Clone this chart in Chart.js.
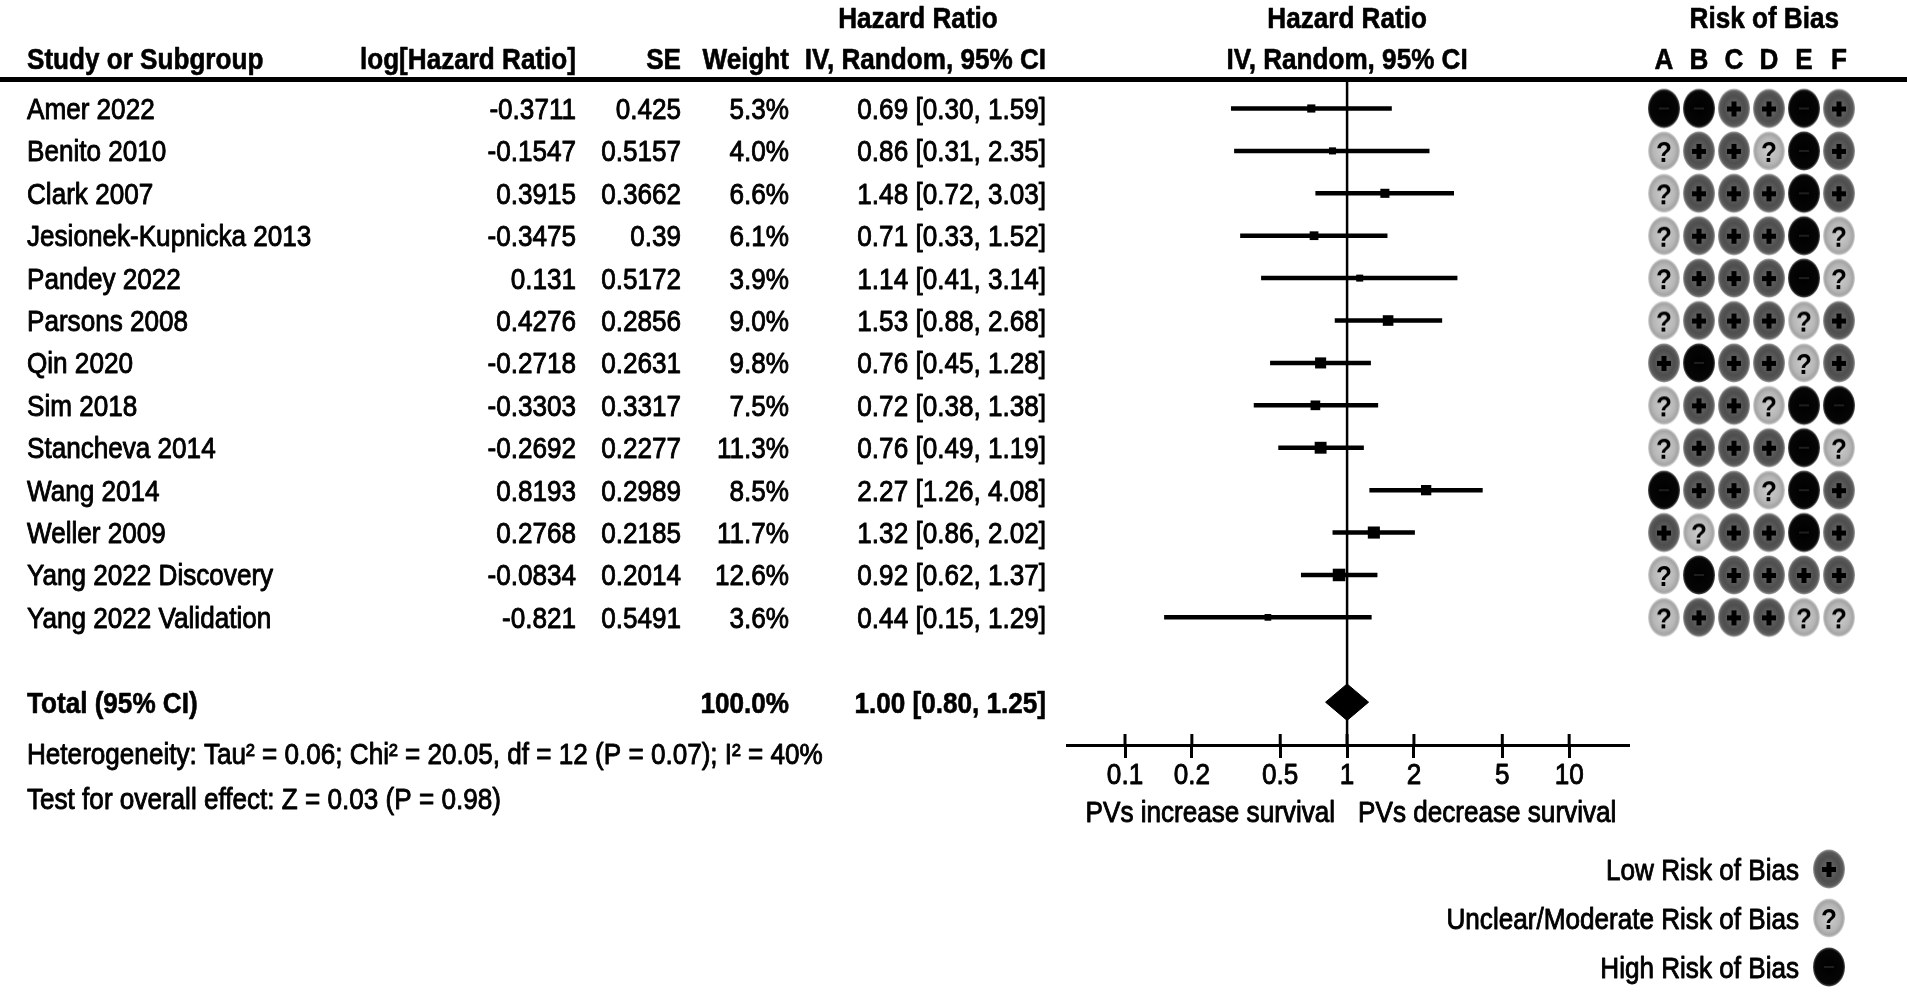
<!DOCTYPE html>
<html>
<head>
<meta charset="utf-8">
<title>Forest plot</title>
<script src="https://cdn.jsdelivr.net/npm/chart.js@4.4.0/dist/chart.umd.min.js"></script>
<style>
    html, body { margin: 0; padding: 0; background: #fff; }
    #wrap { position: relative; width: 1907px; height: 993px; overflow: hidden; }
    #wrap canvas { position: absolute; left: 0; top: 0; }
</style>
</head>
<body>
<div id="wrap">
    <canvas id="forest" width="1907" height="993"></canvas>
    <canvas id="rob" width="1907" height="993"></canvas>
</div>
<script>
// ---- data ----
const studies = ['Amer 2022', 'Benito 2010', 'Clark 2007', 'Jesionek-Kupnicka 2013', 'Pandey 2022', 'Parsons 2008',
    'Qin 2020', 'Sim 2018', 'Stancheva 2014', 'Wang 2014', 'Weller 2009', 'Yang 2022 Discovery', 'Yang 2022 Validation'];
const logHR = [-0.3711, -0.1547, 0.3915, -0.3475, 0.131, 0.4276, -0.2718, -0.3303, -0.2692, 0.8193, 0.2768, -0.0834, -0.821];
const se = [0.425, 0.5157, 0.3662, 0.39, 0.5172, 0.2856, 0.2631, 0.3317, 0.2277, 0.2989, 0.2185, 0.2014, 0.5491];
const weight = [5.3, 4.0, 6.6, 6.1, 3.9, 9.0, 9.8, 7.5, 11.3, 8.5, 11.7, 12.6, 3.6];
const hr = [0.69, 0.86, 1.48, 0.71, 1.14, 1.53, 0.76, 0.72, 0.76, 2.27, 1.32, 0.92, 0.44];
const ciLow = [0.30, 0.31, 0.72, 0.33, 0.41, 0.88, 0.45, 0.38, 0.49, 1.26, 0.86, 0.62, 0.15];
const ciHigh = [1.59, 2.35, 3.03, 1.52, 3.14, 2.68, 1.28, 1.38, 1.19, 4.08, 2.02, 1.37, 1.29];
const totalWeight = 100.0;
const totalHR = 1.00;
const totalLow = 0.80;
const totalHigh = 1.25;
const tickValues = [0.1, 0.2, 0.5, 1, 2, 5, 10];
const robColumns = ['A', 'B', 'C', 'D', 'E', 'F'];
// L = low, U = unclear/moderate, H = high
const rob = ['HHLLHL', 'ULLUHL', 'ULLLHL', 'ULLLHU', 'ULLLHU', 'ULLLUL', 'LHLLUL',
    'ULLUHH', 'ULLLHU', 'HLLUHL', 'LULLHL', 'UHLLLL', 'ULLLUU'];
const robKeys = ['L', 'U', 'H'];
const robLabels = ['Low Risk of Bias', 'Unclear/Moderate Risk of Bias', 'High Risk of Bias'];
const heterogeneity = 'Heterogeneity: Tau\u00b2 = 0.06; Chi\u00b2 = 20.05, df = 12 (P = 0.07); I\u00b2 = 40%';
const overallTest = 'Test for overall effect: Z = 0.03 (P = 0.98)';
const leftLabel = 'PVs increase survival';
const rightLabel = 'PVs decrease survival';

// ---- layout ----
const W = 1907, H = 993;
const TOP = 80, AXIS_Y = 745;
const Y_MIN = -0.672, Y_MAX = 15.01;
const TOTAL_ROW = 14;
const FONT = '"Liberation Sans", Arial, sans-serif';
const SQUEEZE = 0.9;

function txt(ctx, s, x, y, align, bold) {
    ctx.save();
    ctx.font = (bold ? 'bold ' : '') + '29px ' + FONT;
    ctx.fillStyle = '#000';
    ctx.strokeStyle = '#000';
    ctx.lineWidth = bold ? 0.6 : 0.9;
    ctx.lineJoin = 'round';
    ctx.textAlign = align || 'left';
    ctx.textBaseline = 'alphabetic';
    ctx.translate(x, y);
    ctx.scale(SQUEEZE, 1);
    ctx.fillText(s, 0, 0);
    ctx.strokeText(s, 0, 0);
    ctx.restore();
}

function ciText(h, lo, hi) {
    return h.toFixed(2) + ' [' + lo.toFixed(2) + ', ' + hi.toFixed(2) + ']';
}

// risk of bias symbols
function makeSymbol(kind) {
    let c = document.createElement('canvas');
    c.width = 34;
    c.height = 42;
    let g = c.getContext('2d');
    let stops;
    if (kind === 'L') stops = [[0, '#6e6e6e'], [0.65, '#4e4e4e'], [0.88, '#5a5a5a'], [1, '#a0a0a0']];
    else if (kind === 'U') stops = [[0, '#cdcdcd'], [0.65, '#b8b8b8'], [0.88, '#a4a4a4'], [1, '#d8d8d8']];
    else stops = [[0, '#000'], [0.88, '#060606'], [1, '#555']];
    g.save();
    g.translate(17, 21);
    g.scale(16 / 19.5, 1);
    let grad = g.createRadialGradient(0, 0, 0, 0, 0, 19.5);
    stops.forEach(function (s) { grad.addColorStop(s[0], s[1]); });
    g.beginPath();
    g.arc(0, 0, 19.5, 0, Math.PI * 2);
    g.fillStyle = grad;
    g.fill();
    g.restore();
    g.fillStyle = '#000';
    if (kind === 'L') {
        g.fillRect(10, 19, 14, 5);
        g.fillRect(14.5, 14, 5, 15);
    } else if (kind === 'U') {
        g.font = 'bold 29px ' + FONT;
        g.textAlign = 'center';
        g.textBaseline = 'alphabetic';
        g.save();
        g.translate(17, 32);
        g.scale(0.9, 1);
        g.fillText('?', 0, 0);
        g.restore();
    } else {
        g.fillStyle = '#1e1e1e';
        g.fillRect(12, 20, 10, 2);
    }
    return c;
}
const symbols = {};
robKeys.forEach(function (k) { symbols[k] = makeSymbol(k); });

// ---- forest plot ----
const tablePlugin = {
    id: 'tablePlugin',
    afterDraw(chart) {
        const ctx = chart.ctx;
        const x = chart.scales.x;
        const y = chart.scales.y;
        const mid = x.getPixelForValue(1);

        // header
        txt(ctx, 'Hazard Ratio', 918, 28, 'center', true);
        txt(ctx, 'Hazard Ratio', mid, 28, 'center', true);
        txt(ctx, 'Study or Subgroup', 27, 69, 'left', true);
        txt(ctx, 'log[Hazard Ratio]', 576, 69, 'right', true);
        txt(ctx, 'SE', 681, 69, 'right', true);
        txt(ctx, 'Weight', 789, 69, 'right', true);
        txt(ctx, 'IV, Random, 95% CI', 1046, 69, 'right', true);
        txt(ctx, 'IV, Random, 95% CI', mid, 69, 'center', true);

        ctx.save();
        ctx.fillStyle = '#000';
        ctx.fillRect(0, chart.chartArea.top - 3, W, 5);
        ctx.restore();

        // rows
        studies.forEach(function (name, i) {
            const py = y.getPixelForValue(i) + 10.5;
            txt(ctx, name, 27, py, 'left');
            txt(ctx, String(logHR[i]), 576, py, 'right');
            txt(ctx, String(se[i]), 681, py, 'right');
            txt(ctx, weight[i].toFixed(1) + '%', 789, py, 'right');
            txt(ctx, ciText(hr[i], ciLow[i], ciHigh[i]), 1046, py, 'right');
        });

        const ty = y.getPixelForValue(TOTAL_ROW) + 10.5;
        txt(ctx, 'Total (95% CI)', 27, ty, 'left', true);
        txt(ctx, totalWeight.toFixed(1) + '%', 789, ty, 'right', true);
        txt(ctx, ciText(totalHR, totalLow, totalHigh), 1046, ty, 'right', true);
        txt(ctx, heterogeneity, 27, ty + 51, 'left');
        txt(ctx, overallTest, 27, ty + 96, 'left');

        // axis ticks: upper half and labels
        ctx.save();
        ctx.strokeStyle = '#000';
        ctx.lineWidth = 3;
        x.ticks.forEach(function (t) {
            const px = x.getPixelForValue(t.value);
            ctx.beginPath();
            ctx.moveTo(px, x.top);
            ctx.lineTo(px, x.top - 11);
            ctx.stroke();
        });
        ctx.restore();
        x.ticks.forEach(function (t) {
            txt(ctx, String(t.value), x.getPixelForValue(t.value), x.top + 39, 'center');
        });

        txt(ctx, leftLabel, mid - 12, 822, 'right');
        txt(ctx, rightLabel, mid + 11, 822, 'left');
    },
};

const forestData = [];
forestData.push({
    data: [{ x: 1, y: Y_MIN }, { x: 1, y: Y_MAX }],
    showLine: true,
    borderColor: '#000',
    borderWidth: 2.5,
    pointRadius: 0,
});
studies.forEach(function (name, i) {
    forestData.push({
        data: [{ x: ciLow[i], y: i }, { x: ciHigh[i], y: i }],
        showLine: true,
        borderColor: '#000',
        borderWidth: 4.5,
        pointRadius: 0,
    });
});
forestData.push({
    data: hr.map(function (v, i) { return { x: v, y: i }; }),
    pointStyle: 'rect',
    pointRadius: weight.map(function (w) { return 2.5 * Math.sqrt(w); }),
    backgroundColor: '#000',
    borderWidth: 0,
});
forestData.push({
    data: [
        { x: totalLow, y: TOTAL_ROW },
        { x: totalHR, y: TOTAL_ROW - 0.43 },
        { x: totalHigh, y: TOTAL_ROW },
        { x: totalHR, y: TOTAL_ROW + 0.43 },
        { x: totalLow, y: TOTAL_ROW },
    ],
    showLine: true,
    fill: 'shape',
    backgroundColor: '#000',
    borderColor: '#000',
    borderWidth: 1,
    pointRadius: 0,
    tension: 0,
});

new Chart(document.getElementById('forest'), {
    type: 'scatter',
    data: { datasets: forestData },
    options: {
        responsive: false,
        animation: false,
        events: [],
        layout: { padding: { left: 1067, right: W - 1629, top: TOP, bottom: H - AXIS_Y - 40 } },
        plugins: { legend: { display: false }, tooltip: { enabled: false } },
        scales: {
            x: {
                type: 'logarithmic',
                min: 0.0548,
                max: 18.6,
                afterBuildTicks: function (scale) {
                    scale.ticks = tickValues.map(function (v) { return { value: v }; });
                },
                afterFit: function (scale) {
                    scale.height = 40;
                },
                border: { display: true, color: '#000', width: 3 },
                grid: { display: true, drawOnChartArea: false, drawTicks: true, tickLength: 13, tickWidth: 3, tickColor: '#000', color: '#000' },
                ticks: { display: false, autoSkip: false },
            },
            y: {
                type: 'linear',
                display: false,
                reverse: true,
                min: Y_MIN,
                max: Y_MAX,
            },
        },
    },
    plugins: [tablePlugin],
});

// ---- risk of bias grid ----
const robPlugin = {
    id: 'robPlugin',
    afterDraw(chart) {
        const ctx = chart.ctx;
        const x = chart.scales.x;
        txt(ctx, 'Risk of Bias', 1839, 28, 'right', true);
        robColumns.forEach(function (c, j) {
            txt(ctx, c, x.getPixelForValue(j), 69, 'center', true);
        });
        const legendY = [869, 918, 967];
        robKeys.forEach(function (k, n) {
            txt(ctx, robLabels[n], 1799, legendY[n] + 10.5, 'right');
            const s = symbols[k];
            ctx.drawImage(s, 1829 - s.width / 2, legendY[n] - s.height / 2, s.width, s.height);
        });
    },
};

const robData = robKeys.map(function (k) {
    const pts = [];
    rob.forEach(function (row, i) {
        row.split('').forEach(function (v, j) {
            if (v === k) pts.push({ x: j, y: i });
        });
    });
    return { data: pts, pointStyle: symbols[k], pointRadius: 3 };
});

new Chart(document.getElementById('rob'), {
    type: 'scatter',
    data: { datasets: robData },
    options: {
        responsive: false,
        animation: false,
        events: [],
        layout: { padding: { left: 1646.5, right: W - 1856.5, top: TOP, bottom: H - AXIS_Y } },
        plugins: { legend: { display: false }, tooltip: { enabled: false } },
        scales: {
            x: { type: 'linear', display: false, min: -0.5, max: 5.5 },
            y: { type: 'linear', display: false, reverse: true, min: Y_MIN, max: Y_MAX },
        },
    },
    plugins: [robPlugin],
});
</script>
</body>
</html>
